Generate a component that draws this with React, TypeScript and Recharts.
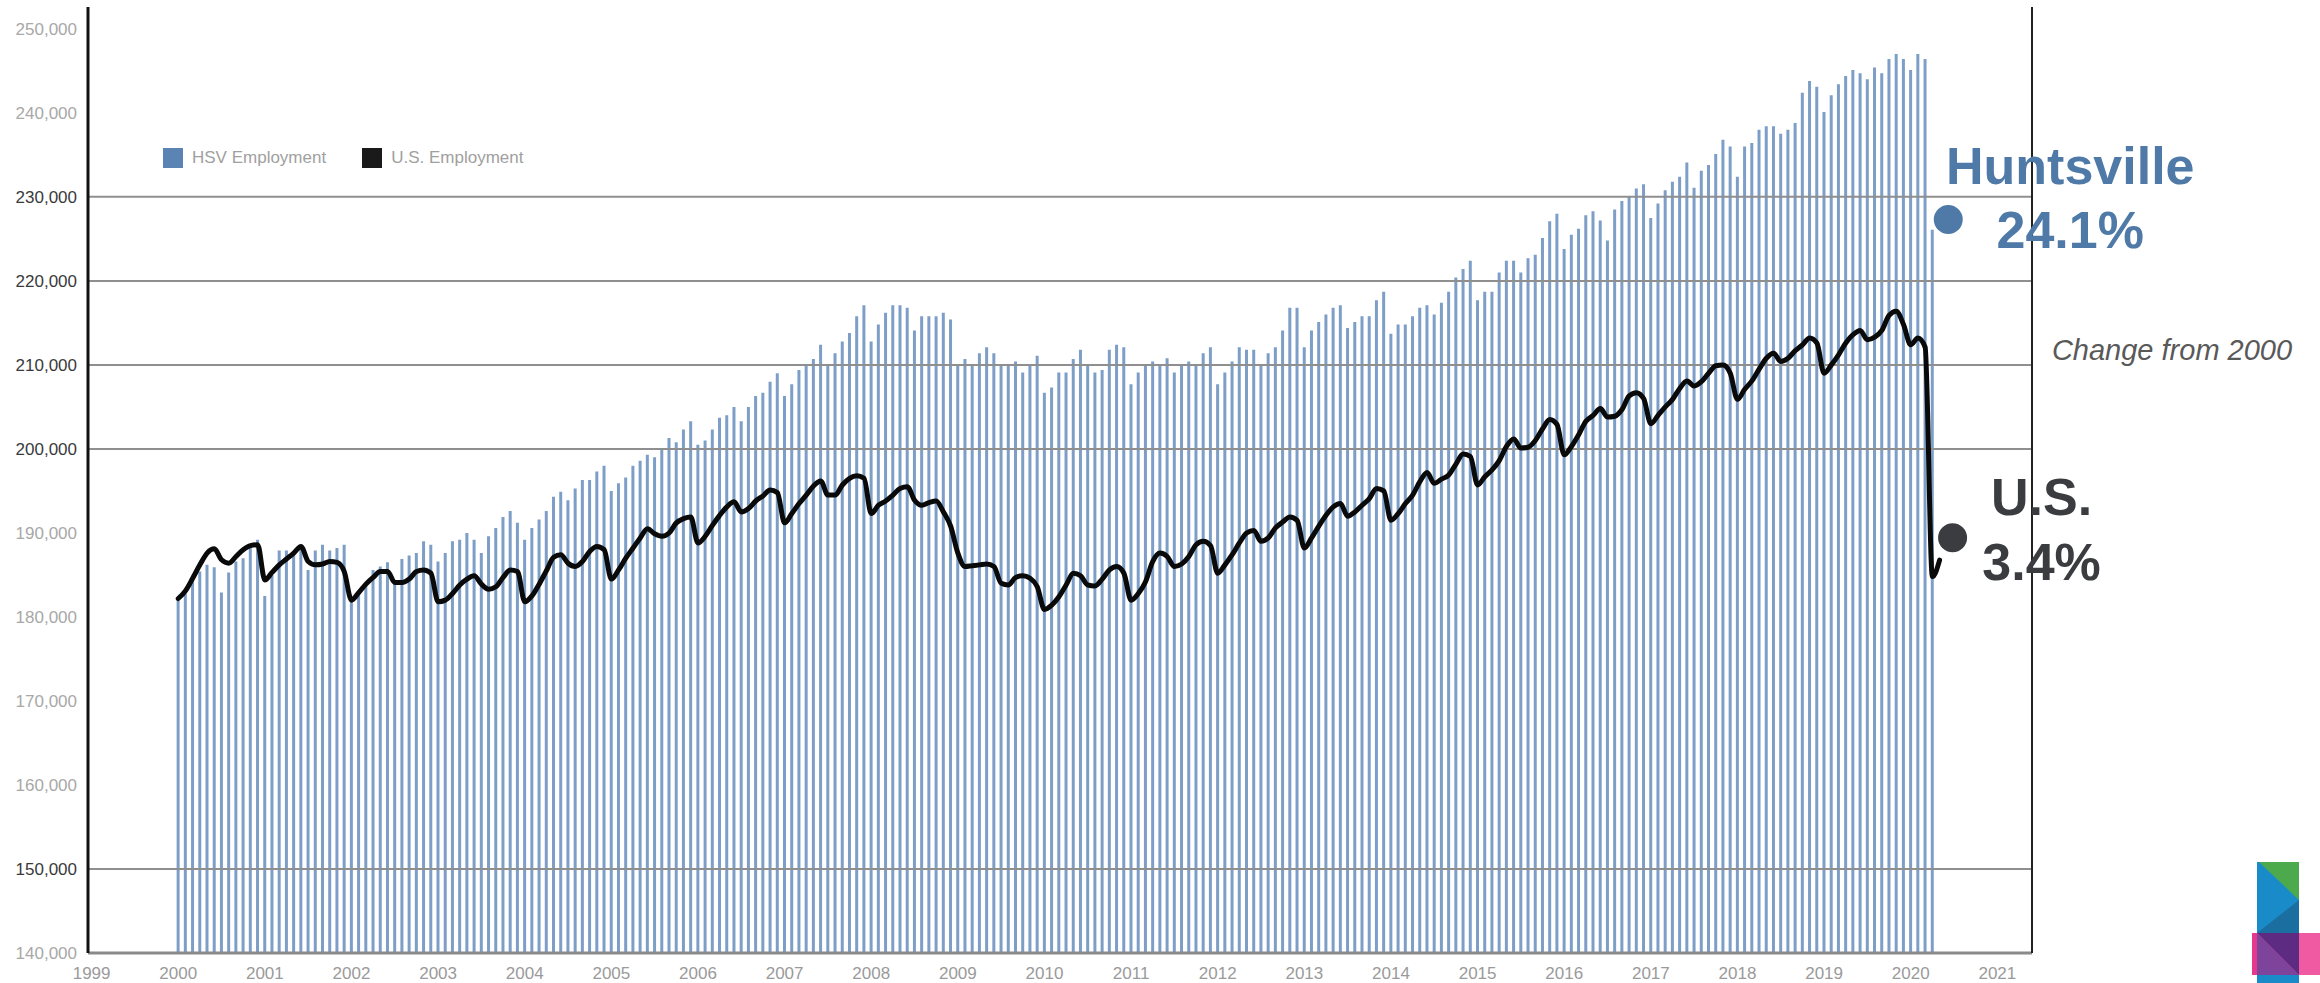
import React from 'react';
import {
  ComposedChart,
  Bar,
  Line,
  XAxis,
  YAxis,
  ReferenceLine,
  ReferenceDot,
  Legend,
} from 'recharts';

// months counted from Jan 2000
const startYear = 2000;
const yearTicks = [
  1999, 2000, 2001, 2002, 2003, 2004, 2005, 2006, 2007, 2008, 2009, 2010,
  2011, 2012, 2013, 2014, 2015, 2016, 2017, 2018, 2019, 2020, 2021,
];

// Huntsville MSA employment, thousands (Jan 2000 - Apr 2020)
const hsvEmployment = [
  182.0, 182.8, 184.4, 185.4, 186.2, 185.9, 182.9, 185.3, 186.6, 187.0, 188.2, 189.2,
  182.5, 185.0, 187.9, 187.9, 187.8, 188.4, 185.6, 187.9, 188.6, 187.9, 188.2, 188.6,
  181.8, 182.8, 184.0, 185.6, 186.0, 186.5, 184.4, 186.9, 187.3, 187.6, 189.0, 188.6,
  186.6, 187.6, 189.0, 189.2, 190.0, 189.2, 187.6, 189.6, 190.6, 191.9, 192.6, 191.2,
  189.2, 190.6, 191.6, 192.6, 194.3, 194.9, 193.9, 195.3, 196.3, 196.3, 197.3, 198.0,
  195.0, 195.9, 196.6, 198.0, 198.6, 199.3, 199.0, 199.9, 201.3, 200.8, 202.3, 203.3,
  200.5, 201.0, 202.3, 203.7, 204.0, 205.0, 203.3, 205.0, 206.3, 206.7, 208.0, 209.0,
  206.3, 207.7, 209.4, 210.0, 210.7, 212.4, 210.0, 211.4, 212.8, 213.8, 215.8, 217.1,
  212.8, 214.8, 216.2, 217.1, 217.1, 216.8, 214.1, 215.8, 215.8, 215.8, 216.2, 215.4,
  210.0, 210.7, 210.0, 211.4, 212.1, 211.4, 210.0, 210.0, 210.4, 209.1, 210.0, 211.1,
  206.7, 207.3, 209.1, 209.1, 210.7, 211.8, 210.0, 209.1, 209.4, 211.8, 212.4, 212.1,
  207.7, 209.1, 210.0, 210.4, 209.9, 210.8, 209.1, 209.9, 210.4, 209.9, 211.4, 212.1,
  207.7, 209.1, 210.4, 212.1, 211.8, 211.8, 209.9, 211.4, 212.1, 214.1, 216.8, 216.8,
  212.1, 214.1, 215.1, 216.0, 216.8, 217.1, 214.4, 215.1, 215.8, 215.8, 217.7, 218.7,
  213.7, 214.8, 214.8, 215.8, 216.8, 217.1, 216.0, 217.4, 218.7, 220.4, 221.4, 222.4,
  217.7, 218.7, 218.7, 221.0, 222.4, 222.4, 221.0, 222.7, 223.1, 225.1, 227.1, 228.0,
  223.8, 225.5, 226.2, 227.8, 228.3, 227.2, 224.8, 228.5, 229.5, 230.1, 231.0, 231.5,
  227.5, 229.2, 230.8, 231.8, 232.4, 234.1, 231.1, 233.1, 233.8, 235.1, 236.8, 236.0,
  232.4, 236.0, 236.4, 238.0, 238.4, 238.4, 237.5, 238.0, 238.8, 242.4, 243.8, 243.1,
  240.1, 242.1, 243.4, 244.4, 245.1, 244.7, 244.0, 245.4, 244.7, 246.4, 247.0, 246.4,
  245.1, 247.0, 246.4, 226.1,
];

// U.S. employment, millions (Jan 2000 - May 2020), drawn on the hidden right axis
const usEmployment = [
  130.14, 130.79, 131.86, 133.0, 134.0, 134.36, 133.43, 133.14, 133.71, 134.29, 134.64, 134.71,
  131.71, 132.36, 133.0, 133.5, 134.0, 134.57, 133.29, 133.0, 133.07, 133.29, 133.21, 132.43,
  130.0, 130.64, 131.36, 131.93, 132.43, 132.43, 131.5, 131.5, 131.79, 132.43, 132.57, 132.29,
  129.86, 130.0, 130.57, 131.29, 131.79, 132.07, 131.36, 130.93, 131.14, 131.93, 132.57, 132.43,
  129.86, 130.36, 131.36, 132.5, 133.64, 133.86, 133.14, 132.86, 133.29, 134.14, 134.57, 134.29,
  131.79, 132.57, 133.57, 134.43, 135.29, 136.07, 135.64, 135.43, 135.71, 136.57, 136.93, 137.07,
  134.86, 135.43, 136.36, 137.21, 137.93, 138.36, 137.5, 137.79, 138.43, 138.86, 139.36, 139.14,
  136.57, 137.36, 138.21, 138.93, 139.71, 140.14, 138.93, 138.93, 139.79, 140.36, 140.57, 140.36,
  137.36, 138.07, 138.43, 138.93, 139.5, 139.64, 138.5, 138.07, 138.29, 138.43, 137.5, 136.29,
  134.0, 132.86, 132.93, 133.0, 133.07, 132.86, 131.43, 131.29, 131.93, 132.07, 131.86, 131.14,
  129.21, 129.57, 130.29, 131.29, 132.29, 132.07, 131.29, 131.21, 131.79, 132.57, 132.86, 132.29,
  130.0, 130.57, 131.57, 133.29, 134.0, 133.71, 132.86, 133.07, 133.71, 134.71, 135.0, 134.64,
  132.29, 133.0, 133.86, 134.86, 135.71, 135.93, 135.0, 135.29, 136.14, 136.64, 137.07, 136.79,
  134.43, 135.29, 136.29, 137.21, 137.93, 138.21, 137.14, 137.5, 138.07, 138.64, 139.5, 139.29,
  136.79, 137.36, 138.21, 138.93, 140.07, 140.86, 139.93, 140.29, 140.64, 141.57, 142.43, 142.21,
  139.79, 140.5, 141.07, 141.86, 143.07, 143.71, 142.93, 143.0, 143.57, 144.57, 145.36, 144.93,
  142.36, 143.07, 144.07, 145.21, 145.71, 146.29, 145.57, 145.64, 146.21, 147.36, 147.64, 147.14,
  145.0, 145.71, 146.43, 147.07, 148.0, 148.64, 148.21, 148.57, 149.29, 149.93, 150.0, 149.29,
  147.07, 147.93, 148.64, 149.64, 150.57, 151.0, 150.29, 150.57, 151.21, 151.71, 152.29, 151.86,
  149.29, 150.0, 150.86, 151.86, 152.57, 152.93, 152.14, 152.36, 152.93, 154.21, 154.57, 153.43,
  151.71, 152.29, 151.5, 132.0, 133.4,
];

const leftTicks = [140, 150, 160, 170, 180, 190, 200, 210, 220, 230, 240, 250];
const gridValues = [150, 200, 210, 220, 230];

// end-of-series markers (month index, value)
const hsvMarker = { t: 245.2, value: 227.3, name: 'Huntsville', change: '24.1%' };
const usMarker = { t: 245.8, value: 135.3, name: 'U.S.', change: '3.4%' };

const data = usEmployment.map((us, i) => ({
  t: i,
  hsv: hsvEmployment[i],
  us,
}));

const FONT = '"Liberation Sans", Arial, sans-serif';
const BAR_COLOR = '#7d9ec7';
const HSV_COLOR = '#4f7aa8';
const US_COLOR = '#3b3c40';

const LeftTick = (props: any) => {
  const { x, y, payload } = props;
  const dark = gridValues.includes(payload.value);
  return (
    <text
      x={x - 2}
      y={y}
      dy={6}
      textAnchor="end"
      fontFamily={FONT}
      fontSize={17}
      fill={dark ? '#3a3a3a' : '#a8a8a8'}
    >
      {payload.value},000
    </text>
  );
};

const YearTick = (props: any) => {
  const { x, y, payload } = props;
  return (
    <text x={x} y={y} dy={24} textAnchor="middle" fontFamily={FONT} fontSize={17} fill="#9a9a9a">
      {startYear + payload.value / 12}
    </text>
  );
};

const legendSwatch: Record<string, string> = {
  'HSV Employment': '#5b83b3',
  'U.S. Employment': '#1a1a1a',
};

const renderLegend = (props: any) => {
  const { payload = [] } = props;
  return (
    <div style={{ display: 'flex', alignItems: 'center', fontFamily: FONT, fontSize: 17, color: '#a0a0a0' }}>
      {payload.map((p: any) => (
        <div key={p.value} style={{ display: 'flex', alignItems: 'center', marginRight: 36 }}>
          <span
            style={{
              display: 'inline-block',
              width: 20,
              height: 20,
              background: legendSwatch[p.value] || p.color,
              marginRight: 9,
            }}
          />
          {p.value}
        </div>
      ))}
    </div>
  );
};

const marker = (color: string, name: string, change: string, dx: number, dy1: number, dy2: number) =>
  (p: any) => (
    <g>
      <circle cx={p.cx} cy={p.cy} r={16} fill={color} stroke="#fff" strokeWidth={3} />
      <text x={p.cx + dx} y={p.cy + dy1} textAnchor="middle" fontFamily={FONT} fontWeight="bold" fontSize={52} fill={color}>
        {name}
      </text>
      <text x={p.cx + dx} y={p.cy + dy2} textAnchor="middle" fontFamily={FONT} fontWeight="bold" fontSize={52} fill={color}>
        {change}
      </text>
    </g>
  );

export default function App() {
  return (
    <div style={{ position: 'absolute', left: 0, top: 0, width: 2320, height: 983, background: '#fff' }}>
      <ComposedChart width={2320} height={983} data={data} margin={{ top: 7, right: 0, bottom: 0, left: 0 }}>
        <XAxis
          dataKey="t"
          type="number"
          domain={[-12.5, 256.8]}
          allowDataOverflow
          ticks={yearTicks.map((y) => (y - startYear) * 12)}
          interval={0}
          tick={<YearTick />}
          tickLine={false}
          tickSize={0}
          height={30}
          axisLine={{ stroke: '#8a8a8a', strokeWidth: 3 }}
        />
        <YAxis
          yAxisId="left"
          domain={[140, 252.6]}
          allowDataOverflow
          ticks={leftTicks}
          interval={0}
          width={88}
          tick={<LeftTick />}
          tickLine={false}
          tickSize={0}
          tickMargin={9}
          axisLine={{ stroke: '#111', strokeWidth: 3 }}
        />
        <YAxis
          yAxisId="right"
          orientation="right"
          domain={[100, 180.43]}
          allowDataOverflow
          width={288}
          tick={false}
          tickLine={false}
          axisLine={{ stroke: '#222', strokeWidth: 2 }}
        />
        {gridValues.map((v) => (
          <ReferenceLine key={v} yAxisId="left" y={v} stroke="#8f8f8f" strokeWidth={2} />
        ))}
        <Legend
          layout="horizontal"
          verticalAlign="middle"
          align="center"
          wrapperStyle={{ left: 163, top: 148, width: 'auto' }}
          content={renderLegend}
        />
        <Bar
          yAxisId="left"
          dataKey="hsv"
          name="HSV Employment"
          fill={BAR_COLOR}
          barSize={3}
          isAnimationActive={false}
        />
        <Line
          yAxisId="right"
          dataKey="us"
          name="U.S. Employment"
          type="monotone"
          stroke="#0a0a0a"
          strokeWidth={5}
          strokeLinejoin="round"
          strokeLinecap="round"
          dot={false}
          activeDot={false}
          isAnimationActive={false}
        />
        <ReferenceDot
          yAxisId="left"
          x={hsvMarker.t}
          y={hsvMarker.value}
          r={16}
          shape={marker(HSV_COLOR, hsvMarker.name, hsvMarker.change, 122, -36, 28)}
        />
        <ReferenceDot
          yAxisId="right"
          x={usMarker.t}
          y={usMarker.value}
          r={16}
          shape={marker(US_COLOR, usMarker.name, usMarker.change, 89, -23, 42)}
        />
      </ComposedChart>
      <svg width={2320} height={983} style={{ position: 'absolute', left: 0, top: 0, pointerEvents: 'none' }}>
        <text x={2172} y={360} textAnchor="middle" fontFamily={FONT} fontStyle="italic" fontSize={29} fill="#595959">
          Change from 2000
        </text>
        {/* logo */}
        <rect x={2257} y={862} width={42} height={121} fill="#1a8bc9" />
        <polygon points="2259,862 2299,862 2299,900" fill="#4caa4c" />
        <polygon points="2257,933 2299,900 2299,933" fill="#1b6fa0" />
        <rect x={2252} y={933} width={68} height={42} fill="#e6388c" />
        <rect x={2299} y={933} width={21} height={42} fill="#ef5aa3" />
        <polygon points="2257,933 2299,933 2299,975" fill="#5d2c82" />
        <polygon points="2257,933 2257,975 2299,975" fill="#7e449c" />
      </svg>
    </div>
  );
}
